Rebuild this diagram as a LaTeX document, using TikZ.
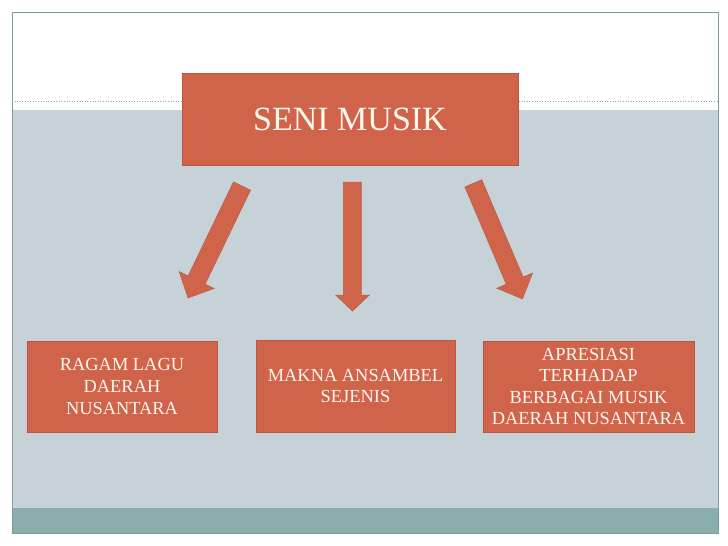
\documentclass[tikz,border=0pt]{standalone}
\usepackage{fontspec}
\setmainfont{Liberation Serif}
\usetikzlibrary{calc}
\definecolor{boxorange}{HTML}{D0644A}
\definecolor{boxedge}{HTML}{B9563F}
\definecolor{bandgray}{HTML}{C6D2D8}
\definecolor{bandteal}{HTML}{8AADAD}
\definecolor{framecol}{HTML}{7F9B9B}
\definecolor{dotcol}{HTML}{9AA6A8}
\definecolor{textcream}{HTML}{FFF6EE}
\newcommand{\blockarrow}[5]{%
  \coordinate (hb) at ($(#2)!#5!(#1)$);
  \filldraw[arrowshape] ($(#1)!#3!90:(#2)$) -- ($(hb)!#3!90:(#2)$) -- ($(hb)!#4!90:(#2)$)
    -- (#2) -- ($(hb)!#4!-90:(#2)$) -- ($(hb)!#3!-90:(#2)$) -- ($(#1)!#3!-90:(#2)$) -- cycle;
}
\begin{document}
\begin{tikzpicture}[x=1pt,y=-1pt,
  box/.style={fill=boxorange,draw=boxedge,line width=0.4pt,text=textcream,
    align=center,inner sep=0pt,font=\fontsize{18.4}{21.6}\selectfont},
  topbox/.style={box,font=\fontsize{34}{39}\selectfont},
  arrowshape/.style={fill=boxorange,draw=boxedge,line width=0.4pt,line join=miter}]
\useasboundingbox (0,0) rectangle (728,546);
\fill[white] (0,0) rectangle (728,546);
\fill[bandgray] (12,110) rectangle (718,508);
\fill[bandteal] (12,508) rectangle (718,533);
\draw[framecol, line width=0.8pt] (12,12) rectangle (718,533);
\draw[dotcol, dotted, line width=0.6pt] (12,101) -- (718,101);

\node[topbox, minimum width=336pt, minimum height=92pt] (top) at (350,119.5) {SENI MUSIK};

\node[box, minimum width=190pt, minimum height=91pt] (left) at (122,386.5)
  {RAGAM LAGU\\DAERAH\\NUSANTARA};
\node[box, minimum width=199pt, minimum height=92pt] (mid) at (355.5,386)
  {MAKNA ANSAMBEL\\SEJENIS};
\node[box, minimum width=211pt, minimum height=91pt] (right) at (588.5,386.5)
  {APRESIASI\\TERHADAP\\BERBAGAI MUSIK\\DAERAH NUSANTARA};

\coordinate (ls) at (242,186);
\coordinate (lt) at (188,298);
\coordinate (ms) at (352.5,182);
\coordinate (mt) at (352.5,311);
\coordinate (rs) at (473.3,183.3);
\coordinate (rt) at (522.5,299);
\blockarrow{ls}{lt}{9.5pt}{19.5pt}{20pt}
\blockarrow{ms}{mt}{9.2pt}{17pt}{16pt}
\blockarrow{rs}{rt}{9.2pt}{19.5pt}{20pt}
\end{tikzpicture}
\end{document}
